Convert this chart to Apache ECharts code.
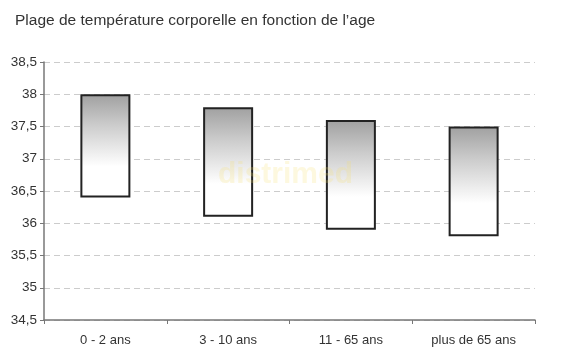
<!DOCTYPE html>
<html><head><meta charset="utf-8">
<script src="https://cdn.jsdelivr.net/npm/echarts@6/dist/echarts.min.js"></script>
<style>html,body{margin:0;padding:0;background:#fff}#c{width:570px;height:356px}</style>
</head><body><div id="c"></div>
<script>
const categories = ['0 - 2 ans', '3 - 10 ans', '11 - 65 ans', 'plus de 65 ans'];
const minTemp = [36.4, 36.1, 35.9, 35.8];
const maxTemp = [38.0, 37.8, 37.6, 37.5];
const titleText = 'Plage de température corporelle en fonction de l\u2019age';

const base = minTemp;
const range = maxTemp.map((v, i) => +(v - minTemp[i]).toFixed(2));

const chart = echarts.init(document.getElementById('c'));
chart.setOption({
  animation: false,
  backgroundColor: '#fff',
  title: {
    text: titleText, left: 10, top: 8,
    textStyle: { fontFamily: 'Liberation Sans, Arial', fontSize: 15.5, fontWeight: 'normal', color: '#333' }
  },
  graphic: [{
    type: 'text', left: 218, top: 160, z: 100,
    style: { text: 'distrimed', fontFamily: 'Liberation Sans, Arial', fontWeight: 'bold', fontSize: 30, fill: 'rgba(245,225,110,0.22)' }
  }],
  grid: { left: 44, right: 35, top: 62, bottom: 36 },
  xAxis: {
    type: 'category', data: categories,
    axisLine: { lineStyle: { color: '#777', width: 1.5 } },
    axisTick: { show: true, alignWithLabel: false, length: 4, lineStyle: { color: '#777' } },
    axisLabel: { color: '#333', fontSize: 13, margin: 14, fontFamily: 'Liberation Sans, Arial' }
  },
  yAxis: {
    type: 'value', min: 34.5, max: 38.5, interval: 0.5,
    axisLine: { show: true, lineStyle: { color: '#777', width: 1.5 } },
    axisTick: { show: true, length: 4, lineStyle: { color: '#777' } },
    axisLabel: { color: '#333', fontSize: 13.5, margin: 7, fontFamily: 'Liberation Sans, Arial',
      formatter: v => String(v).replace('.', ',') },
    splitLine: { lineStyle: { color: '#ccc', type: [6, 4] } }
  },
  series: [
    { type: 'bar', stack: 's', data: base, barWidth: 50, itemStyle: { color: 'transparent' }, silent: true },
    { type: 'bar', stack: 's', data: range, barWidth: 50,
      itemStyle: {
        color: new echarts.graphic.LinearGradient(0, 0, 0, 1, [
          { offset: 0, color: '#a0a0a0' },
          { offset: 0.3, color: '#cccccc' },
          { offset: 0.7, color: '#ffffff' },
          { offset: 1, color: '#ffffff' }
        ]),
        borderColor: '#222', borderWidth: 2
      }
    }
  ]
});
</script></body></html>
